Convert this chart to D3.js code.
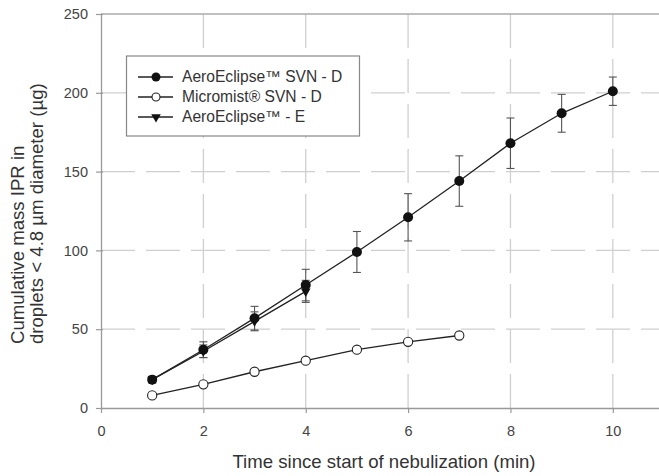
<!DOCTYPE html>
<html>
<head>
<meta charset="utf-8">
<script src="https://cdn.jsdelivr.net/npm/d3@7"></script>
<style>
  body { margin: 0; background: #fff; }
  text { font-family: "Liberation Sans", Arial, sans-serif; fill: #333; }
</style>
</head>
<body>
<div id="chart"></div>
<script>
// data
const timeA = [1, 2, 3, 4, 5, 6, 7, 8, 9, 10];
const aeroSvnD = [18, 37, 57, 78, 99, 121, 144, 168, 187, 201];
const aeroSvnDErr = [2, 5, 7.5, 10, 13, 15, 16, 16, 12, 9];

const timeM = [1, 2, 3, 4, 5, 6, 7];
const micromistD = [8, 15, 23, 30, 37, 42, 46];

const timeE = [1, 2, 3, 4];
const aeroE = [18, 36, 55, 74];
const aeroEErr = [2, 4, 6, 7];

const xTicks = [0, 2, 4, 6, 8, 10];
const yTicks = [0, 50, 100, 150, 200, 250];
const legendLabels = ["AeroEclipse™ SVN - D", "Micromist® SVN - D", "AeroEclipse™ - E"];

const width = 659, height = 476;
const margin = {top: 14, left: 101, bottom: 68, right: -5};

const svg = d3.select("#chart").append("svg")
  .attr("width", width)
  .attr("height", height);

const x = d3.scaleLinear().domain([0, 11]).range([margin.left, width - margin.right]);
const y = d3.scaleLinear().domain([0, 250]).range([height - margin.bottom, margin.top]);

// dashed grid
svg.append("g")
  .selectAll("line")
  .data(xTicks.slice(1))
  .join("line")
  .attr("x1", d => x(d)).attr("x2", d => x(d))
  .attr("y1", y(250)).attr("y2", y(0))
  .attr("stroke", "#cfcfcf").attr("stroke-width", 1.3)
  .attr("stroke-dasharray", "34,11");
svg.append("g")
  .selectAll("line")
  .data(yTicks.slice(1, -1))
  .join("line")
  .attr("x1", x(0)).attr("x2", x(11))
  .attr("y1", d => y(d)).attr("y2", d => y(d))
  .attr("stroke", "#cfcfcf").attr("stroke-width", 1.3)
  .attr("stroke-dasharray", "34,11");

// top frame line
svg.append("line")
  .attr("x1", x(0)).attr("x2", x(11))
  .attr("y1", y(250)).attr("y2", y(250))
  .attr("stroke", "#aaa").attr("stroke-width", 1.3);

// axes
const xAxis = svg.append("g")
  .attr("transform", `translate(0,${y(0)})`)
  .call(d3.axisBottom(x).tickValues(xTicks).tickSize(5).tickPadding(13).tickSizeOuter(0));
const yAxis = svg.append("g")
  .attr("transform", `translate(${x(0)},0)`)
  .call(d3.axisLeft(y).tickValues(yTicks).tickSize(5).tickPadding(8).tickSizeOuter(0));

[xAxis, yAxis].forEach(g => {
  g.select(".domain").attr("stroke", "#999").attr("stroke-width", 1.3);
  g.selectAll(".tick line").attr("stroke", "#999").attr("stroke-width", 1.2);
  g.selectAll(".tick text").style("font-size", "14.5px").style("fill", "#444")
    .style("font-family", "Liberation Sans, Arial, sans-serif");
});
yAxis.selectAll(".tick line").attr("x2", -5).attr("x1", 2);

// axis titles
svg.append("text")
  .attr("x", 384)
  .attr("y", 468)
  .attr("text-anchor", "middle")
  .style("font-size", "18.6px")
  .text("Time since start of nebulization (min)");

const yl = svg.append("text")
  .attr("transform", "translate(0,344) rotate(-90)")
  .attr("text-anchor", "start")
  .style("font-size", "18.6px");
yl.append("tspan").attr("x", 0).attr("y", 24).text("Cumulative mass IPR in");
yl.append("tspan").attr("x", 0).attr("y", 43).text("droplets < 4.8 µm diameter (µg)");

// error bars
function errorBars(xs, ys, es) {
  const g = svg.append("g").attr("stroke", "#555").attr("stroke-width", 1.1);
  const rows = xs.map((t, i) => ({t, v: ys[i], e: es[i]}));
  g.selectAll(".v").data(rows).join("line")
    .attr("x1", d => x(d.t)).attr("x2", d => x(d.t))
    .attr("y1", d => y(d.v - d.e)).attr("y2", d => y(d.v + d.e));
  g.selectAll(".t").data(rows).join("line")
    .attr("x1", d => x(d.t) - 4).attr("x2", d => x(d.t) + 4)
    .attr("y1", d => y(d.v + d.e)).attr("y2", d => y(d.v + d.e));
  g.selectAll(".b").data(rows).join("line")
    .attr("x1", d => x(d.t) - 4).attr("x2", d => x(d.t) + 4)
    .attr("y1", d => y(d.v - d.e)).attr("y2", d => y(d.v - d.e));
}
errorBars(timeE, aeroE, aeroEErr);
errorBars(timeA, aeroSvnD, aeroSvnDErr);

const line = d3.line().x(d => x(d[0])).y(d => y(d[1]));
function drawLine(xs, ys) {
  svg.append("path")
    .datum(xs.map((t, i) => [t, ys[i]]))
    .attr("d", line)
    .attr("fill", "none")
    .attr("stroke", "#222").attr("stroke-width", 1.3);
}
drawLine(timeE, aeroE);
drawLine(timeM, micromistD);
drawLine(timeA, aeroSvnD);

const tri = d3.symbol().type(d3.symbolTriangle).size(40);
svg.append("g").selectAll("path")
  .data(timeE.map((t, i) => [t, aeroE[i]]))
  .join("path")
  .attr("d", tri)
  .attr("transform", d => `translate(${x(d[0])},${y(d[1])}) rotate(180)`)
  .attr("fill", "#111");

svg.append("g").selectAll("circle")
  .data(timeM.map((t, i) => [t, micromistD[i]]))
  .join("circle")
  .attr("cx", d => x(d[0])).attr("cy", d => y(d[1])).attr("r", 4.6)
  .attr("fill", "#fff").attr("stroke", "#222").attr("stroke-width", 1.1);

svg.append("g").selectAll("circle")
  .data(timeA.map((t, i) => [t, aeroSvnD[i]]))
  .join("circle")
  .attr("cx", d => x(d[0])).attr("cy", d => y(d[1])).attr("r", 5)
  .attr("fill", "#111");

// legend
const leg = svg.append("g");
leg.append("rect")
  .attr("x", 126.5).attr("y", 56).attr("width", 233).attr("height", 80)
  .attr("fill", "#fff").attr("stroke", "#888").attr("stroke-width", 1.2);
const items = leg.selectAll("g.item").data(legendLabels).join("g")
  .attr("transform", (d, i) => `translate(138,${77 + i * 20})`);
items.append("line").attr("x1", 0).attr("x2", 35).attr("y1", 0).attr("y2", 0)
  .attr("stroke", "#222").attr("stroke-width", 1.3);
items.filter((d, i) => i === 0).append("circle").attr("cx", 18).attr("r", 4.5).attr("fill", "#111");
items.filter((d, i) => i === 1).append("circle").attr("cx", 18).attr("r", 4)
  .attr("fill", "#fff").attr("stroke", "#222").attr("stroke-width", 1.1);
items.filter((d, i) => i === 2).append("path").attr("d", tri)
  .attr("transform", "translate(18,0) rotate(180)").attr("fill", "#111");
items.append("text").attr("x", 44).attr("dy", "0.35em")
  .style("font-size", "15.6px").text(d => d);
</script>
</body>
</html>
